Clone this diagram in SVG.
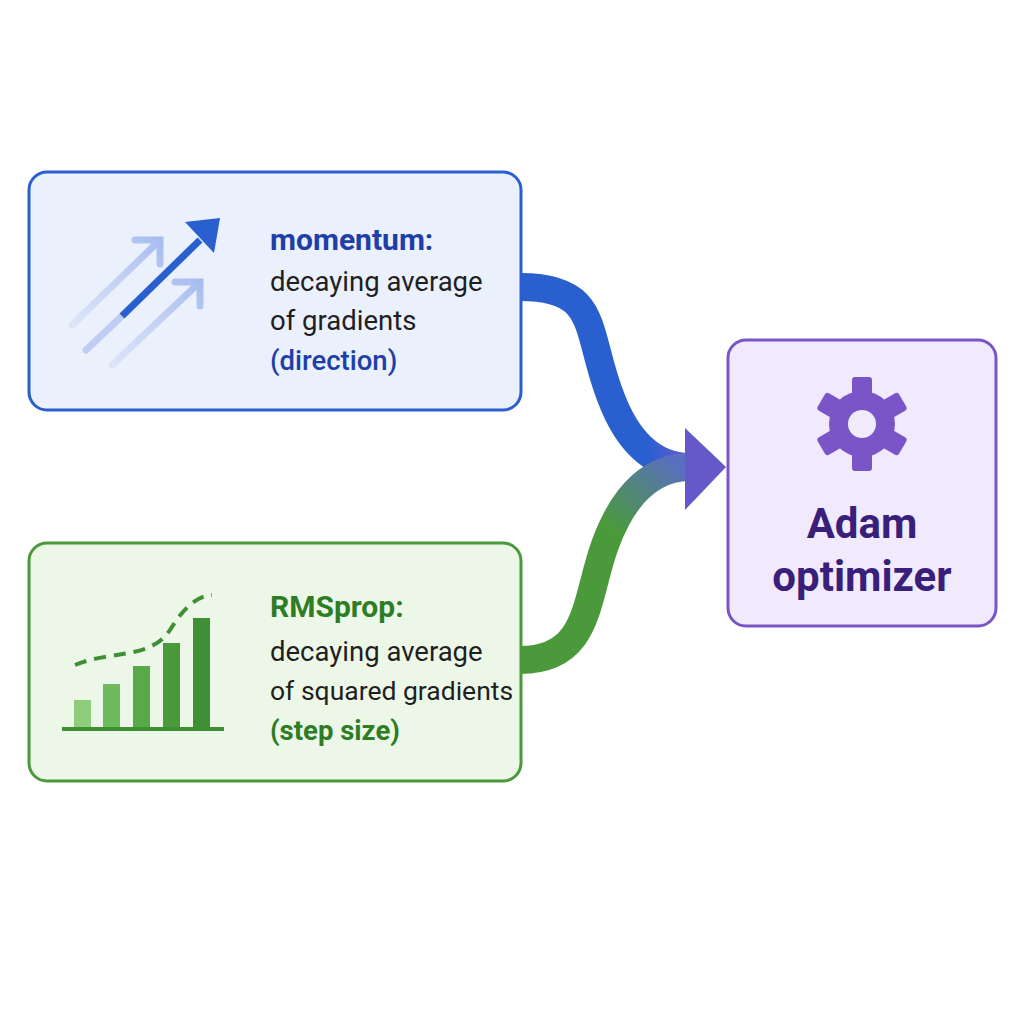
<svg xmlns="http://www.w3.org/2000/svg" width="1024" height="1024" viewBox="0 0 1024 1024">
<defs>
<linearGradient id="gb" x1="0" y1="0" x2="1" y2="0"><stop offset="0.75" stop-color="#2a5fcf"/><stop offset="1" stop-color="#6a5acd"/></linearGradient>
<linearGradient id="gg" x1="520" y1="660" x2="700" y2="467" gradientUnits="userSpaceOnUse"><stop offset="0.6" stop-color="#4a9a3c"/><stop offset="0.95" stop-color="#5a6fc0"/></linearGradient>
<linearGradient id="fa" x1="0" y1="1" x2="1" y2="0"><stop offset="0" stop-color="#b8c8f0" stop-opacity="0.3"/><stop offset="1" stop-color="#a8bdf0"/></linearGradient>
</defs>
<style>
.t{font-family:Roboto,"Liberation Sans",sans-serif;font-size:27.5px;fill:#1f1f1f}
.b{font-weight:bold}
</style>
<rect width="1024" height="1024" fill="#fff"/>
<g id="connectors">
<path d="M520 287 C600 287 585 330 610 395 C630 450 660 467 690 467" fill="none" stroke="url(#gb)" stroke-width="28"/>
<path d="M520 660 C590 660 585 600 605 545 C625 490 655 467 690 467" fill="none" stroke="url(#gg)" stroke-width="28"/>
<polygon points="685,428 726,467 685,510" fill="#6558c8"/>
</g>
<g id="momentum">
<rect x="29" y="172" width="492" height="238" rx="18" fill="#eaf0fc" stroke="#2a5fcf" stroke-width="3"/>
<g stroke="url(#fa)" stroke-width="7" stroke-linecap="round" fill="none">
<path d="M72 325 L160 240 M135 240 L160 240 L160 264"/>
<path d="M112 365 L200 282 M175 282 L200 282 L200 306"/>
</g>
<path d="M86 350 L122 316" stroke="#c0cdf2" stroke-width="7" stroke-linecap="round"/>
<path d="M122 316 L200 240" stroke="#2a5fcf" stroke-width="7"/>
<polygon points="185,222 220,218 214,253" fill="#2a5fcf"/>
<text x="270" y="250" class="t b" style="fill:#1e3fa8;font-size:30px">momentum:</text>
<text x="270" y="291" class="t">decaying average</text>
<text x="270" y="330" class="t">of gradients</text>
<text x="270" y="370" class="t" style="fill:#1e3fa8;font-weight:500">(direction)</text>
</g>
<g id="rmsprop">
<rect x="29" y="543" width="492" height="238" rx="18" fill="#edf7e8" stroke="#4a9a3c" stroke-width="3"/>
<path d="M75 665 C110 650 150 660 170 630 C185 605 200 595 212 595" fill="none" stroke="#3f8f35" stroke-width="4" stroke-dasharray="12 8"/>
<rect x="74" y="700" width="17" height="27" fill="#8fcc7c"/>
<rect x="103" y="684" width="17" height="43" fill="#6fba5c"/>
<rect x="133" y="666" width="17" height="61" fill="#58aa48"/>
<rect x="163" y="643" width="17" height="84" fill="#4a9a3c"/>
<rect x="193" y="618" width="17" height="109" fill="#3f8f35"/>
<line x1="62" y1="729" x2="224" y2="729" stroke="#3f8f35" stroke-width="4"/>
<text x="270" y="617" class="t b" style="fill:#2e7d25;font-size:30px">RMSprop:</text>
<text x="270" y="661" class="t">decaying average</text>
<text x="270" y="700" class="t" style="font-size:26.5px">of squared gradients</text>
<text x="270" y="740" class="t b" style="fill:#2e7d25">(step size)</text>
</g>
<g id="adam">
<rect x="728" y="340" width="268" height="286" rx="18" fill="#f0eafc" stroke="#7a55c8" stroke-width="3"/>
<g transform="translate(862,424)" fill="#7a55c8">
<circle r="33"/>
<g id="tooth"><rect x="-10" y="-47" width="20" height="20" rx="3"/></g>
<use href="#tooth" transform="rotate(60)"/><use href="#tooth" transform="rotate(120)"/><use href="#tooth" transform="rotate(180)"/><use href="#tooth" transform="rotate(240)"/><use href="#tooth" transform="rotate(300)"/>
<circle r="14" fill="#f0eafc"/>
</g>
<text x="862" y="538" text-anchor="middle" class="t b" style="fill:#3a1f7a;font-size:42px">Adam</text>
<text x="862" y="591" text-anchor="middle" class="t b" style="fill:#3a1f7a;font-size:42px">optimizer</text>
</g>
</svg>
